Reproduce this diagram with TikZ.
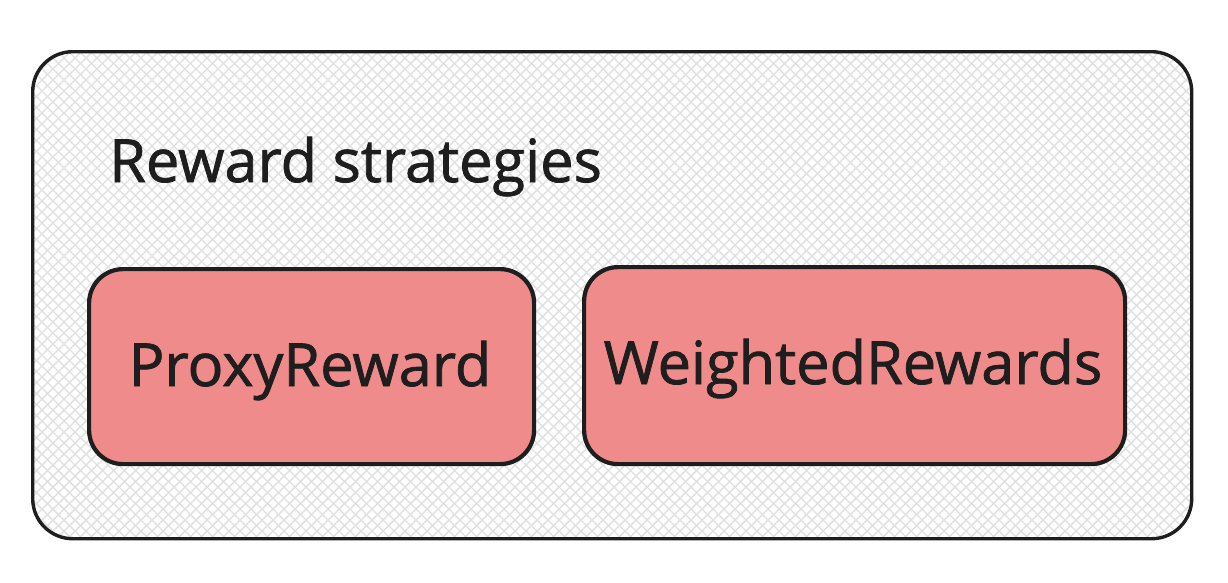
\documentclass[tikz,border=0pt]{standalone}
\usepackage{fontspec}
\setmainfont{Open Sans}
\newfontfamily\medfont{Open Sans}[RawFeature={embolden=1.3}]
\definecolor{ink}{HTML}{1E1E1E}
\definecolor{redfill}{HTML}{F08B8B}
\definecolor{hatch}{HTML}{E0E0E0}
\begin{document}
\begin{tikzpicture}[x=1pt,y=-1pt,
  outerbox/.style={draw=ink,line width=3.4pt,rounded corners=40pt},
  itembox/.style={draw=ink,fill=redfill,line width=4.2pt,rounded corners=34pt},
  lbl/.style={text=ink,inner sep=0pt,font=\medfont\fontsize{59.5}{70}\selectfont}]
\useasboundingbox (0,0) rectangle (1228,582);
\fill[white] (0,0) rectangle (1228,582);
% hatch fill of the container
\begin{scope}
  \clip[rounded corners=40pt] (31,50) rectangle (1190,537);
  \foreach \i in {0,11,...,1700} {
    \draw[hatch,line width=1.4pt] (\i-500,0) -- (\i+100,600);
    \draw[hatch,line width=1.4pt] (\i-500,600) -- (\i+100,0);
  }
\end{scope}
\node[outerbox,minimum width=1159pt,minimum height=487pt,anchor=north west] (outer) at (31,50) {};
\node[text=ink,inner sep=0pt,anchor=base west,font=\medfont\fontsize{59.5}{70}\selectfont] (title) at (109,182) {Reward strategies};
\node[itembox,minimum width=445pt,minimum height=195pt,anchor=north west] (proxy) at (87,267) {};
\node[lbl,anchor=base] (proxyt) at (310,386) {ProxyReward};
\node[itembox,minimum width=541pt,minimum height=197pt,anchor=north west] (weighted) at (582,265) {};
\node[lbl,anchor=base] (weightedt) at (853,384) {WeightedRewards};
\end{tikzpicture}
\end{document}
